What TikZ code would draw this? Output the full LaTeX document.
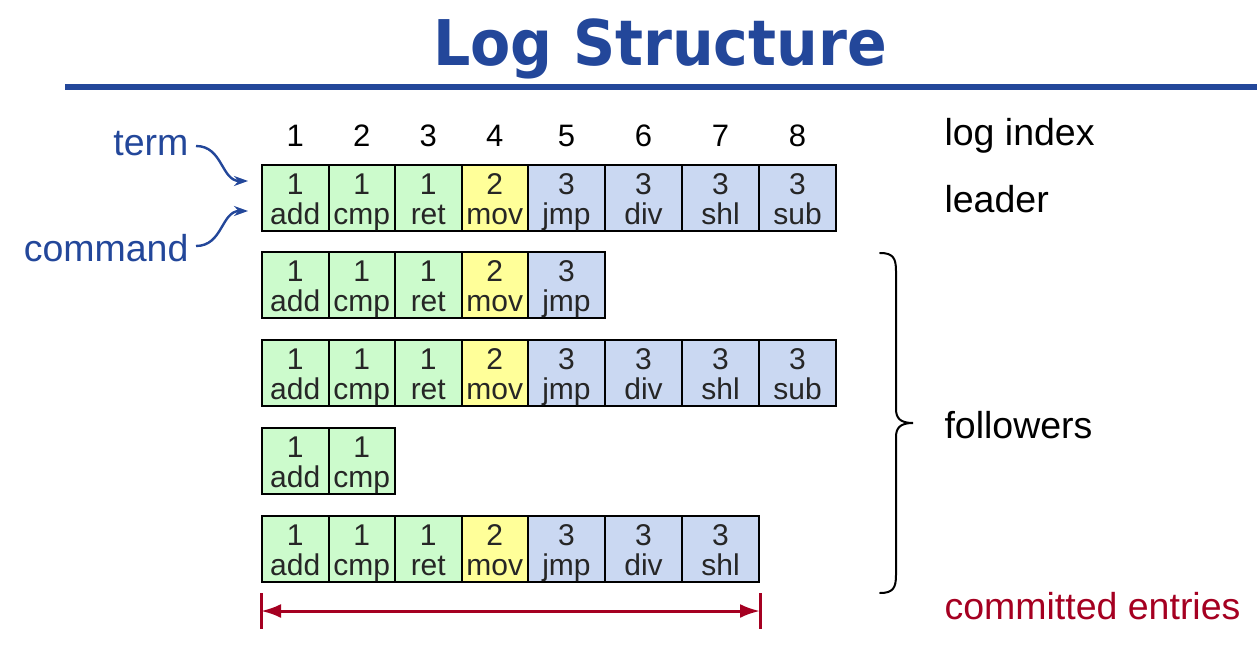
\documentclass[tikz,border=0pt]{standalone}
\usepackage{fontspec}
\setmainfont{Liberation Sans}
\newfontfamily\headfont{DejaVu Sans}
\usetikzlibrary{arrows.meta}
\definecolor{titleblue}{HTML}{23479A}
\definecolor{cellgreen}{HTML}{CCFBCC}
\definecolor{cellyellow}{HTML}{FFFF99}
\definecolor{cellblue}{HTML}{CAD8F2}
\definecolor{commitred}{HTML}{A50021}
\tikzset{
  x=1pt, y=-1pt,
  cell/.style={draw=black, line width=2pt, minimum height=66pt, inner sep=0pt},
  gcell/.style={cell, fill=cellgreen, minimum width=66.5pt},
  ycell/.style={cell, fill=cellyellow, minimum width=66.5pt},
  bcell/.style={cell, fill=cellblue, minimum width=77pt},
  celltext/.style={anchor=base, inner sep=0pt, text=black!85, font=\fontsize{30}{30}\selectfont},
  idx/.style={font=\fontsize{31}{31}\selectfont},
  sidelabel/.style={anchor=west, font=\fontsize{37.5}{37.5}\selectfont},
  bluelabel/.style={anchor=east, text=titleblue, font=\fontsize{37.5}{37.5}\selectfont},
  pointer/.style={draw=titleblue, line width=2.4pt, -{Stealth[length=14pt,width=10pt]}},
}
\begin{document}
\begin{tikzpicture}
\useasboundingbox (0,0) rectangle (1257,655);

% title and rule
\node (title) at (660,49) {\headfont\bfseries\color{titleblue}\fontsize{63}{63}\selectfont\scalebox{0.93}[1]{Log Structure}};
\fill[titleblue] (65,84) rectangle (1257,90);

% log index header
\foreach \n/\x in {1/295.25,2/361.75,3/428.25,4/494.75,5/566.5,6/643.5,7/720.5,8/797.5}
  \node[idx] (idx\n) at (\x,136) {\n};

% log rows: each cell holds the entry's term above its command
\foreach \r/\y/\last in {0/198/8,1/285/5,2/373/8,3/461/2,4/549/7}{
  \foreach \c/\x/\st/\tm/\cmd in {1/295.25/gcell/1/add,2/361.75/gcell/1/cmp,3/428.25/gcell/1/ret,
      4/494.75/ycell/2/mov,5/566.5/bcell/3/jmp,6/643.5/bcell/3/div,7/720.5/bcell/3/shl,8/797.5/bcell/3/sub}{
    \ifnum\c>\last\else
      \node[\st] (r\r c\c) at (\x,\y) {};
      \node[celltext] (r\r c\c t) at ([yshift=4pt]r\r c\c.center) {\tm};
      \node[celltext] (r\r c\c m) at ([yshift=-26pt]r\r c\c.center) {\cmd};
    \fi
  }
}

% right-hand labels
\node[sidelabel] (logindex) at (941,136) {log index};
\node[sidelabel] (leader) at (941,199) {leader};
\node[sidelabel] (followers) at (941,425) {followers};
\node[sidelabel, text=commitred] (committed) at (941,606) {committed entries};

% term / command pointers
\node[bluelabel] (term) at (192,144) {term};
\node[bluelabel] (command) at (192,248) {command};
\coordinate (termtip) at ([xshift=-13pt,yshift=17pt]r0c1.west);
\coordinate (cmdtip) at ([xshift=-13pt,yshift=-13pt]r0c1.west);
\draw[pointer] ([xshift=4pt,yshift=-2pt]term.east) to[out=0,in=180,looseness=1.1] (termtip);
\draw[pointer] ([xshift=4pt,yshift=2pt]command.east) to[out=0,in=180,looseness=1.1] (cmdtip);

% followers brace
\draw[line width=2pt, line cap=round]
  (880,253) .. controls (893,253) and (896,258) .. (896,271)
  -- (896,409) .. controls (896,418) and (900,423) .. (913,423)
  .. controls (900,423) and (896,428) .. (896,437)
  -- (896,575) .. controls (896,588) and (893,593) .. (880,593);

% committed range
\coordinate (ca) at (r4c1.west |- 0,611);
\coordinate (cb) at (r4c7.east |- 0,611);
\draw[commitred, line width=3pt] ([yshift=18pt]ca) -- ([yshift=-18pt]ca);
\draw[commitred, line width=3pt] ([yshift=18pt]cb) -- ([yshift=-18pt]cb);
\draw[commitred, line width=3pt, {Latex[length=20pt,width=14pt]}-{Latex[length=20pt,width=14pt]}] (ca) -- (cb);
\end{tikzpicture}
\end{document}
